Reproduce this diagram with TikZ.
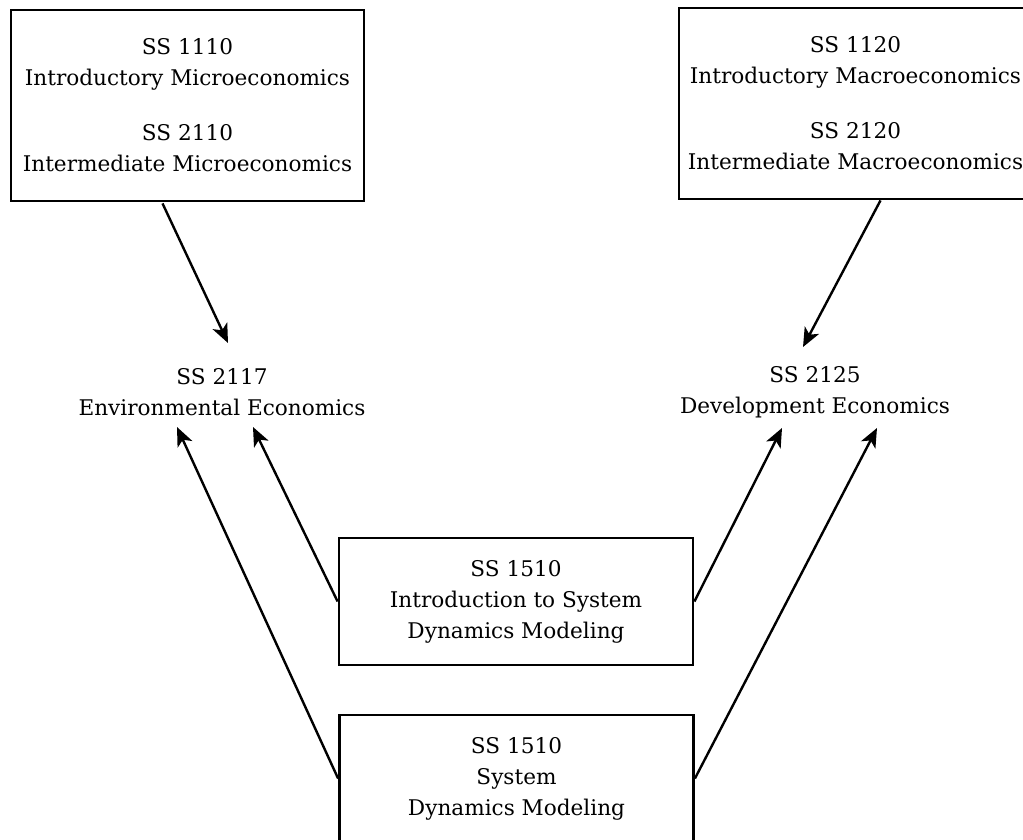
\documentclass[tikz,border=0pt]{standalone}
\usepackage{fontspec}
\setmainfont{DejaVu Serif}
\usetikzlibrary{arrows.meta}

\begin{document}
\begin{tikzpicture}[x=1pt,y=-1pt,
  course/.style={draw, line width=2.8pt, align=center, inner sep=0pt,
    minimum width=354pt, minimum height=127pt},
  label/.style={align=center, inner sep=0pt},
  arr/.style={line width=2.4pt, -{Stealth[length=19pt,width=16pt,inset=5pt]}},
  font=\fontsize{21.6}{31}\selectfont]

\path[use as bounding box, clip] (0,0) rectangle (1023,839);

\node [course, minimum width=353pt, minimum height=191pt] (micro) at (187.5,105.5)
  {SS 1110\\ Introductory Microeconomics\\[24pt] SS 2110\\ Intermediate Microeconomics};
\node [course, minimum width=353pt, minimum height=191pt] (macro) at (855.5,103.5)
  {SS 1120\\ Introductory Macroeconomics\\[24pt] SS 2120\\ Intermediate Macroeconomics};

\node [label] (env) at (222,392) {SS 2117\\ Environmental Economics};
\node [label] (dev) at (815,392) {SS 2125\\ Development Economics};

\node [course] (intro) at (516,601.5) {SS 1510\\ Introduction to System\\ Dynamics Modeling};
\node [course] (sdm) at (516.5,778.5) {SS 1510\\ System\\ Dynamics Modeling};

\draw [arr] ([shift={(-25,1)}]micro.south) -- ([shift={(6,-49)}]env.center);
\draw [arr] ([shift={(25,0)}]macro.south) -- ([shift={(-12,-45)}]dev.center);

\draw [arr] (intro.west) -- ([shift={(31,35)}]env.center);
\draw [arr] (sdm.west) -- ([shift={(-45,35)}]env.center);
\draw [arr] (intro.east) -- ([shift={(-33,36)}]dev.center);
\draw [arr] (sdm.east) -- ([shift={(62,36)}]dev.center);
\end{tikzpicture}
\end{document}
